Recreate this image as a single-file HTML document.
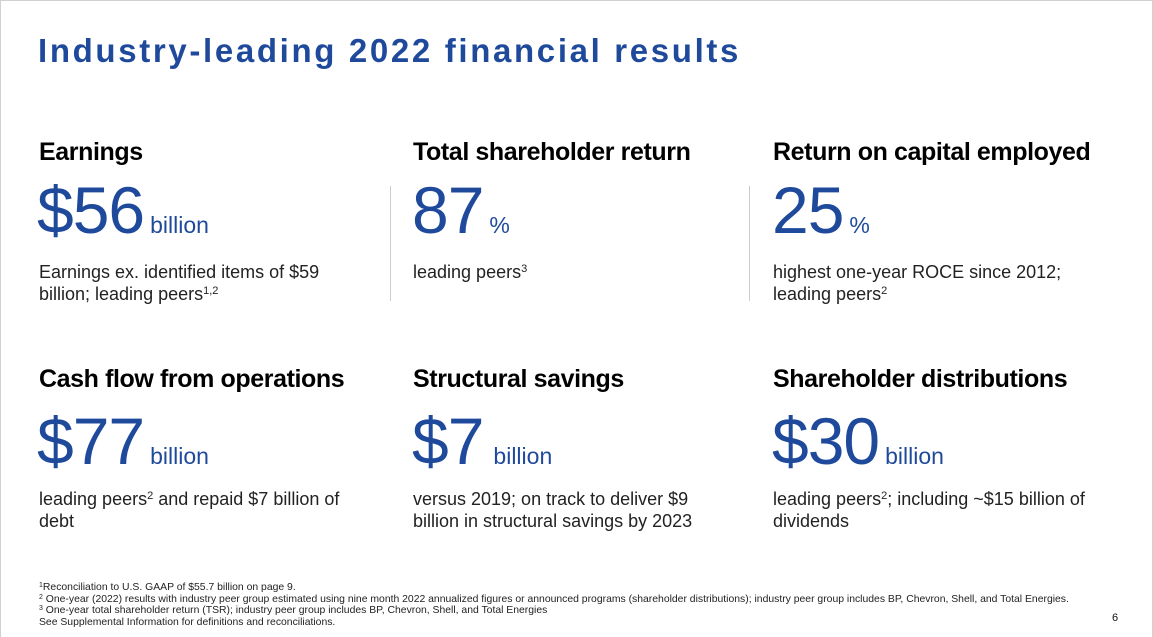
<!DOCTYPE html>
<html><head><style>
body{margin:0;background:#fff;}
#p{position:relative;width:1151px;height:636px;border:1px solid #d0d0d0;border-bottom:none;overflow:hidden;font-family:"Liberation Sans",sans-serif;color:#111;}
.a{position:absolute;white-space:nowrap;}
.t{left:37px;top:31px;font-size:33px;font-weight:bold;color:#1f4a9c;letter-spacing:2.65px;}
.h{font-size:25px;font-weight:bold;color:#000;letter-spacing:-0.4px;}
.n{font-size:66px;color:#1f4a9c;line-height:1;letter-spacing:-1px;}
.n span{font-size:23px;letter-spacing:0;margin-left:6px;}
.b{font-size:18px;line-height:22px;color:#222;}
sup{font-size:11px;line-height:0;vertical-align:6px;}
.d{position:absolute;width:1px;background:#ccc;}
.f{left:38px;top:581px;font-size:10.4px;line-height:11.6px;color:#222;}
</style></head><body><div id="p">
<div class="a t">Industry-leading 2022 financial results</div>

<div class="a h" style="left:38px;top:137px">Earnings</div>
<div class="a n" style="left:36px;top:176px">$56<span>billion</span></div>
<div class="a b" style="left:38px;top:260px">Earnings ex. identified items of $59<br>billion; leading peers<sup>1,2</sup></div>

<div class="a h" style="left:412px;top:137px">Total shareholder return</div>
<div class="a n" style="left:411px;top:176px">87<span>%</span></div>
<div class="a b" style="left:412px;top:260px">leading peers<sup>3</sup></div>

<div class="a h" style="left:772px;top:137px">Return on capital employed</div>
<div class="a n" style="left:771px;top:176px">25<span>%</span></div>
<div class="a b" style="left:772px;top:260px">highest one-year ROCE since 2012;<br>leading peers<sup>2</sup></div>

<div class="d" style="left:389px;top:185px;height:115px"></div>
<div class="d" style="left:748px;top:185px;height:115px"></div>

<div class="a h" style="left:38px;top:364px">Cash flow from operations</div>
<div class="a n" style="left:36px;top:407px">$77<span>billion</span></div>
<div class="a b" style="left:38px;top:487px">leading peers<sup>2</sup> and repaid $7 billion of<br>debt</div>

<div class="a h" style="left:412px;top:364px">Structural savings</div>
<div class="a n" style="left:411px;top:407px">$7<span style="margin-left:10px">billion</span></div>
<div class="a b" style="left:412px;top:487px">versus 2019; on track to deliver $9<br>billion in structural savings by 2023</div>

<div class="a h" style="left:772px;top:364px">Shareholder distributions</div>
<div class="a n" style="left:771px;top:407px">$30<span>billion</span></div>
<div class="a b" style="left:772px;top:487px">leading peers<sup>2</sup>; including ~$15 billion of<br>dividends</div>

<div class="a f"><sup style="font-size:7px;vertical-align:3px">1</sup>Reconciliation to U.S. GAAP of $55.7 billion on page 9.<br><sup style="font-size:7px;vertical-align:3px">2</sup> One-year (2022) results with industry peer group estimated using nine month 2022 annualized figures or announced programs (shareholder distributions); industry peer group includes BP, Chevron, Shell, and Total Energies.<br><sup style="font-size:7px;vertical-align:3px">3</sup> One-year total shareholder return (TSR); industry peer group includes BP, Chevron, Shell, and Total Energies<br>See Supplemental Information for definitions and reconciliations.</div>
<div class="a" style="left:1111px;top:611px;font-size:11px">6</div>
</div></body></html>
